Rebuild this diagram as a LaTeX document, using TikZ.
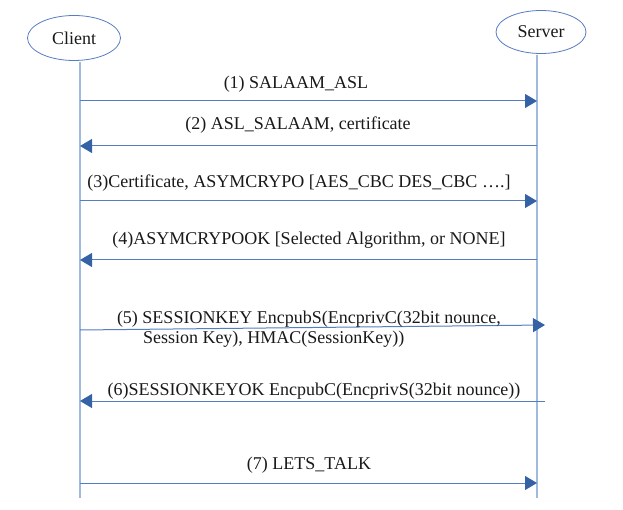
\documentclass[tikz,border=0pt]{standalone}
\usepackage{fontspec}
\setmainfont{Liberation Serif}
\usetikzlibrary{arrows.meta,shapes.geometric}
\definecolor{lifeblue}{RGB}{160,185,222}
\definecolor{msgblue}{RGB}{85,125,192}
\definecolor{tipblue}{RGB}{52,98,165}
\definecolor{txt}{RGB}{25,25,25}

\begin{document}
\begin{tikzpicture}[x=1pt,y=-1pt,inner sep=0pt,outer sep=0pt,
actor/.style={draw=msgblue,ellipse,minimum width=93pt,minimum height=45pt,line width=0.8pt,font=\fontsize{18}{21}\selectfont,text=txt},
lifeline/.style={draw=lifeblue,line width=1.3pt},
msg/.style={draw=msgblue,line width=1pt,-{Triangle[length=12pt,width=14pt,color=tipblue]}},
lbl/.style={anchor=base,font=\fontsize{18}{21}\selectfont,text=txt}]

\useasboundingbox (0,0) rectangle (623,510);

\node[actor] (client) at (74,38) {Client};
\node[actor,minimum width=90pt,minimum height=43pt] (server) at (541,32) {Server};

% lifelines
\coordinate (ctop) at (80,62);
\coordinate (cbot) at (80,498);
\coordinate (stop) at (537,55);
\coordinate (sbot) at (537,498);
\draw[lifeline] (ctop) -- (cbot);
\draw[lifeline] (stop) -- (sbot);

% message ends: c = client side, s = server side
\foreach \i/\yc/\xs/\ys in {1/101/537/101,2/146/537/146,3/201/537/201,4/260/537/260,5/330/545/325,6/401/545/401,7/483/537/483}{
  \coordinate (c\i) at (80,\yc);
  \coordinate (s\i) at (\xs,\ys);
}

\draw[msg] (c1) -- (s1);
\node[lbl] (m1) at (296,89) {(1) SALAAM\_ASL};
\draw[msg] (s2) -- (c2);
\node[lbl] (m2) at (298,130) {(2) ASL\_SALAAM, certificate};
\draw[msg] (c3) -- (s3);
\node[lbl] (m3) at (299,188) {(3)Certificate, ASYMCRYPO [AES\_CBC DES\_CBC ….]};
\draw[msg] (s4) -- (c4);
\node[lbl] (m4) at (309,245) {(4)ASYMCRYPOOK [Selected Algorithm, or NONE]};
\draw[msg] (c5) -- (s5);
\node[lbl,anchor=base west] (m5) at (117,323) {(5) SESSIONKEY EncpubS(EncprivC(32bit nounce,};
\node[lbl,anchor=base west] (m5b) at (143,343) {Session Key), HMAC(SessionKey))};
\draw[msg] (s6) -- (c6);
\node[lbl] (m6) at (314,395) {(6)SESSIONKEYOK EncpubC(EncprivS(32bit nounce))};
\draw[msg] (c7) -- (s7);
\node[lbl] (m7) at (309,469) {(7) LETS\_TALK};
\end{tikzpicture}
\end{document}
